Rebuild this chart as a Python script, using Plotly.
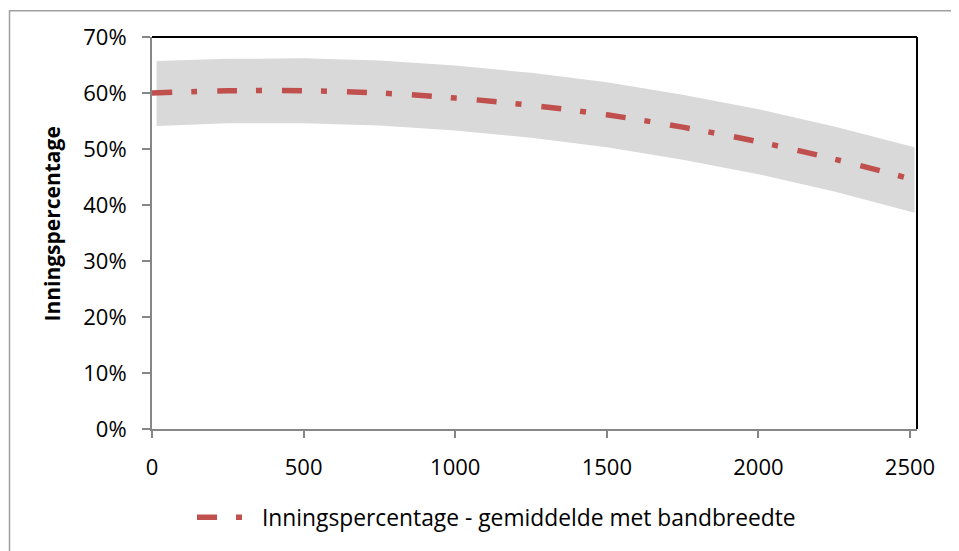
import plotly.graph_objects as go

# Data
x_vals = [0, 250, 500, 750, 1000, 1250, 1500, 1750, 2000, 2250, 2500]
mean_vals = [0.600, 0.604, 0.604, 0.600, 0.591, 0.578, 0.561, 0.539, 0.513, 0.482, 0.447]
band_x = [15, 250, 500, 750, 1000, 1250, 1500, 1750, 2000, 2250, 2515]
upper_vals = [0.657, 0.661, 0.662, 0.658, 0.649, 0.636, 0.619, 0.597, 0.571, 0.540, 0.503]
lower_vals = [0.541, 0.546, 0.546, 0.542, 0.533, 0.520, 0.503, 0.481, 0.455, 0.424, 0.386]
x_ticks = [0, 500, 1000, 1500, 2000, 2500]
y_ticks = [0, 0.1, 0.2, 0.3, 0.4, 0.5, 0.6, 0.7]
y_ticklabels = ["0%", "10%", "20%", "30%", "40%", "50%", "60%", "70%"]
series_name = "Inningspercentage - gemiddelde met bandbreedte"
y_title = "Inningspercentage"

FONT = "Open Sans"
GRAY_AXIS = "#868686"
BAND = "#D9D9D9"
RED = "#C0504D"

fig = go.Figure()
fig.add_trace(go.Scatter(x=band_x, y=lower_vals, mode="lines", line=dict(width=0, color=BAND),
                         showlegend=False, hoverinfo="skip"))
fig.add_trace(go.Scatter(x=band_x, y=upper_vals, mode="lines", line=dict(width=0, color=BAND),
                         fill="tonexty", fillcolor=BAND, showlegend=False, hoverinfo="skip"))
fig.add_trace(go.Scatter(x=x_vals, y=mean_vals, mode="lines", name=series_name,
                         line=dict(color=RED, width=5.5, dash="20px,19px,6px,20px", shape="spline")))

# page has an 8px body margin, so the figure is 8px smaller and shifted
W, H = 951, 543
ml, mr, mt, mb = 144, 42, 29, 119
pw, ph = W - ml - mr, H - mt - mb

TICK_SIZE = 22
fig.update_layout(
    width=W, height=H,
    margin=dict(l=ml, r=mr, t=mt, b=mb),
    paper_bgcolor="white", plot_bgcolor="white",
    font=dict(family=FONT, size=TICK_SIZE, color="black"),
    showlegend=True,
    legend=dict(orientation="h", x=(184 - ml) / pw, xanchor="left", y=-(513 - (H - mb)) / ph,
                yanchor="middle", font=dict(family=FONT, size=22.8, color="black"),
                itemwidth=60, bgcolor="rgba(0,0,0,0)"),
    xaxis=dict(range=[0, 2523], tickvals=x_ticks, showgrid=False, zeroline=False,
               showline=True, linecolor=GRAY_AXIS, linewidth=2,
               ticks="outside", ticklen=7, tickwidth=2, tickcolor=GRAY_AXIS,
               ticklabelstandoff=11, tickfont=dict(family=FONT, size=TICK_SIZE, color="black")),
    yaxis=dict(range=[0, 0.7], tickvals=y_ticks, ticktext=y_ticklabels, showgrid=False, zeroline=False,
               showline=True, linecolor=GRAY_AXIS, linewidth=2,
               ticks="outside", ticklen=8, tickwidth=2, tickcolor=GRAY_AXIS,
               ticklabelstandoff=11, tickfont=dict(family=FONT, size=TICK_SIZE, color="black")),
    shapes=[
        dict(type="line", xref="paper", yref="paper", x0=0, x1=1, y0=1, y1=1,
             line=dict(color="black", width=2)),
        dict(type="line", xref="paper", yref="paper", x0=1, x1=1, y0=0, y1=1,
             line=dict(color="black", width=2)),
        dict(type="rect", xref="paper", yref="paper",
             x0=(1.5 - ml) / pw, x1=(W + 20 - ml) / pw,
             y0=-(H + 20 - (H - mb)) / ph, y1=((H - mb) - 2.5) / ph,
             line=dict(color="#A0A0A0", width=1.5), fillcolor="rgba(0,0,0,0)", layer="below"),
    ],
    annotations=[
        dict(text="<b>" + y_title + "</b>", xref="paper", yref="paper",
             x=(44 - ml) / pw, y=((H - mb) - 218) / ph, xanchor="center", yanchor="middle",
             textangle=-90, showarrow=False, font=dict(family=FONT, size=21, color="black")),
    ],
)

fig.write_html("out.html")
